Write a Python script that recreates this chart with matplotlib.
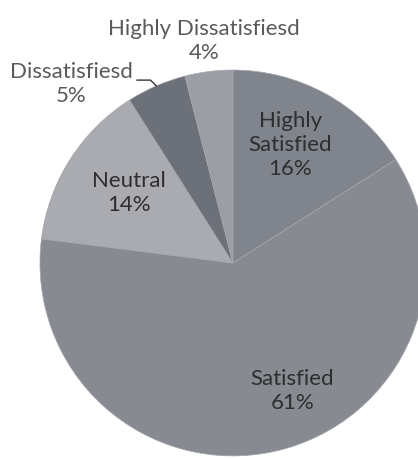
import numpy as np
import matplotlib.pyplot as plt

# Survey responses (percent)
labels = ['Highly\nSatisfied', 'Satisfied', 'Neutral', 'Dissatisfiesd', 'Highly Dissatisfiesd']
values = [16, 61, 14, 5, 4]
colors = ['#80848c', '#878a91', '#a9abb1', '#6c7078', '#9c9ea6']

# label placement: (angle in degrees, distance from centre in radii)
label_pos = [(64, 0.68), (-65, 0.73), (146, 0.65), (132, 1.25), (97.5, 1.16)]

plt.rcParams['font.family'] = ['Lato', 'DejaVu Sans']

fig = plt.figure(figsize=(4.18, 4.59), dpi=100)
ax = fig.add_axes([0, 0, 1, 1])

wedges, _ = ax.pie(values, colors=colors, startangle=90, counterclock=False,
                   radius=1.0, wedgeprops=dict(linewidth=0.5, edgecolor='#a4a6ac'))

for lab, val, (ang, r) in zip(labels, values, label_pos):
    x = r * np.cos(np.radians(ang))
    y = r * np.sin(np.radians(ang))
    ax.text(x, y, f'{lab}\n{val}%', ha='center', va='center', fontsize=16,
            color='#2e2e2e' if r < 1 else '#5a5a5a', linespacing=1.25)

# leader line for the small "Dissatisfiesd" slice
w = wedges[3]
mid = np.radians((w.theta1 + w.theta2) / 2)
ex, ey = np.cos(mid), np.sin(mid)
ax.plot([ex - 0.1, ex - 0.03, ex], [ey + 0.03, ey + 0.03, ey], color='#333333', lw=1)

ax.set_xlim(-1.207, 0.959)
ax.set_ylim(-1.016, 1.363)
ax.set_aspect('auto')
ax.axis('off')

fig.savefig('out.png', dpi=100, facecolor='white')
